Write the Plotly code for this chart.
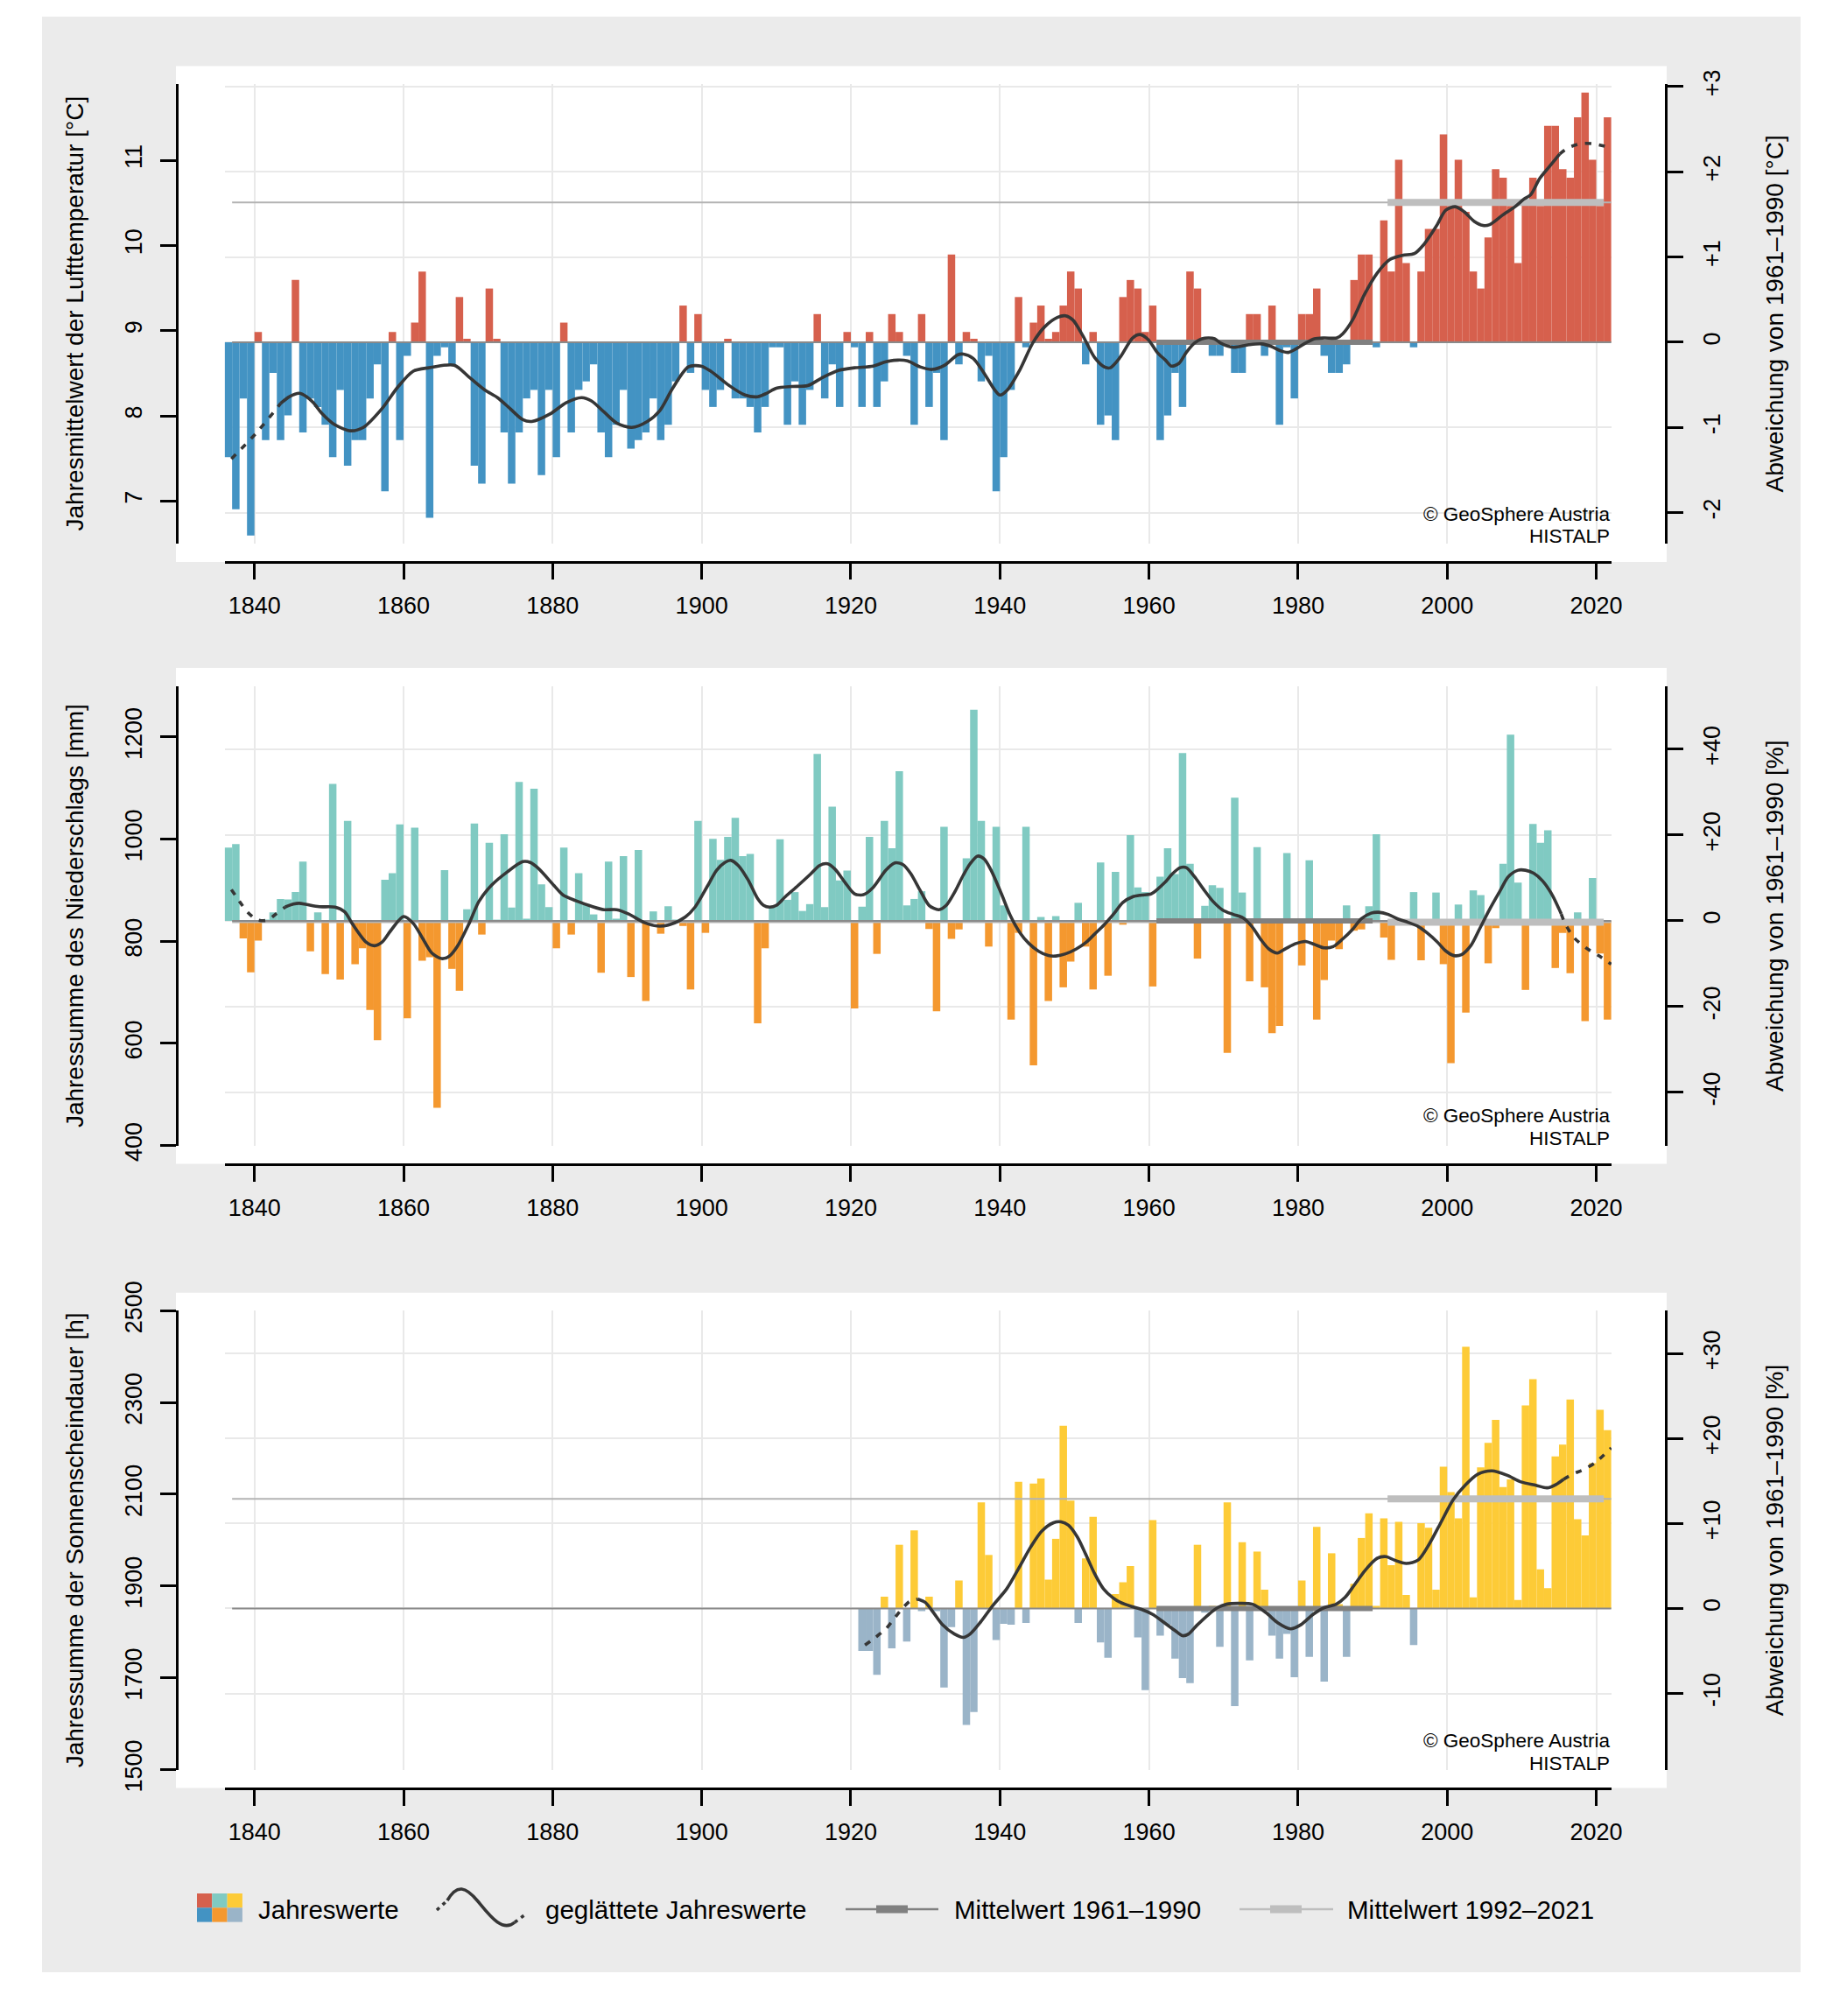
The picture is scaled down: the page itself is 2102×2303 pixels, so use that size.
import plotly.graph_objects as go

W, H = 2102, 2303

# ---------------------------------------------------------------- data
X_TICKS = [1840, 1860, 1880, 1900, 1920, 1940, 1960, 1980, 2000, 2020]
X_RANGE = [1836.0, 2022.05]
LINE_SPAN = [1837, 2022]
REF_PERIOD = [1961, 1990]
RECENT_PERIOD = [1992, 2021]

TEMP_YEARS = list(range(1837, 2023))
TEMP_DEV = [
    -1.35, -1.96, -0.66,
    -2.27, 0.12, -1.15, -0.36, -1.15, -0.86, 0.73, -1.06, -0.66, -0.76,
    -0.97, -1.35, -0.56, -1.45, -1.15, -1.15, -0.66, -0.26, -1.75, 0.12,
    -1.15, -0.16, 0.23, 0.83, -2.06, -0.16, -0.06, -0.26, 0.53, 0.04,
    -1.45, -1.66, 0.63, 0.04, -1.06, -1.66, -1.06, -0.66, -0.56, -1.56,
    -0.56, -1.35, 0.23, -1.06, -0.56, -0.46, -0.26, -1.06, -1.35, -0.97,
    -0.56, -1.25, -1.15, -1.06, -0.66, -1.15, -0.97, -0.46, 0.43, -0.36,
    0.33, -0.56, -0.76, -0.56, 0.04, -0.66, -0.66, -0.76, -1.06, -0.76,
    -0.06, -0.06, -0.97, -0.46, -0.97, -0.56, 0.33, -0.66, -0.26, -0.76,
    0.12, -0.06, -0.76, 0.12, -0.76, -0.46, 0.33, 0.12, -0.16, -0.97,
    0.33, -0.76, -0.36, -1.15, 1.03, -0.26, 0.12, 0.04, -0.46, -0.16,
    -1.75, -1.35, -0.56, 0.53, -0.06, 0.23, 0.43, 0.04, 0.12, 0.43,
    0.83, 0.63, -0.26, 0.12, -0.97, -0.86, -1.15, 0.53, 0.73, 0.63,
    0.12, 0.43, -1.15, -0.86, -0.36, -0.76, 0.83, 0.63, 0.02, -0.16,
    -0.16, -0.02, -0.36, -0.36, 0.33, 0.33, -0.16, 0.43, -0.97, -0.06,
    -0.66, 0.33, 0.33, 0.63, -0.16, -0.36, -0.36, -0.26, 0.73, 1.03,
    1.03, -0.06, 1.43, 0.83, 2.14, 0.93, -0.06, 0.83, 1.33, 1.33,
    2.44, 1.60, 2.14, 1.53, 0.83, 0.63, 1.23, 2.03, 1.93, 1.60,
    0.93, 1.65, 1.93, 1.60, 2.54, 2.54, 2.03, 1.93, 2.64, 2.93,
    2.14, 1.60, 2.64,
]
TEMP_SMOOTH_X = [
    1836.9, 1840.3, 1843.5, 1844.7, 1846.0, 1847.0, 1847.9, 1849.1, 1850.8, 1852.9,
    1854.6, 1857.1, 1859.2, 1861.3, 1863.4, 1866.8, 1868.8, 1870.9, 1872.6, 1874.3,
    1876.0, 1877.2, 1879.7, 1881.8, 1883.9, 1885.2, 1886.9, 1888.6, 1890.6, 1892.7,
    1894.4, 1896.1, 1898.2, 1899.9, 1901.2, 1903.7, 1905.8, 1907.5, 1908.7, 1910.0,
    1912.1, 1914.2, 1916.3, 1918.4, 1920.5, 1923.0, 1924.7, 1926.3, 1927.6, 1929.3,
    1930.9, 1932.6, 1934.3, 1935.1, 1936.4, 1937.7, 1939.3, 1940.0, 1941.0, 1942.7,
    1944.4, 1946.0, 1947.7, 1948.8, 1949.8, 1951.1, 1952.7, 1954.0, 1954.8, 1956.1,
    1957.8, 1958.8, 1959.9, 1961.1, 1962.2, 1963.0, 1964.0, 1965.0, 1966.1, 1967.1,
    1968.0, 1968.8, 1969.6, 1971.3, 1973.4, 1975.1, 1976.4, 1977.6, 1978.7, 1979.7,
    1981.0, 1982.2, 1983.5, 1985.2, 1986.0, 1987.3, 1988.9, 1990.6, 1992.3, 1994.0,
    1995.6, 1996.9, 1998.6, 1999.8, 2001.1, 2002.3, 2003.6, 2004.8, 2005.7, 2007.4,
    2009.1, 2010.3, 2011.2, 2012.4, 2013.7, 2015.1, 2016.2, 2017.9, 2019.5, 2021.6,
]
TEMP_SMOOTH_Y = [
    -1.37, -1.06, -0.72, -0.64, -0.60, -0.64, -0.71, -0.84, -0.97, -1.04,
    -1.00, -0.78, -0.53, -0.34, -0.30, -0.27, -0.41, -0.56, -0.65, -0.78,
    -0.91, -0.93, -0.84, -0.71, -0.65, -0.69, -0.82, -0.95, -1.00, -0.93,
    -0.80, -0.54, -0.29, -0.28, -0.34, -0.51, -0.62, -0.64, -0.60, -0.54,
    -0.52, -0.51, -0.41, -0.33, -0.30, -0.28, -0.23, -0.21, -0.22, -0.29,
    -0.32, -0.27, -0.15, -0.14, -0.19, -0.34, -0.56, -0.62, -0.56, -0.32,
    -0.01, 0.18, 0.29, 0.31, 0.26, 0.08, -0.18, -0.29, -0.30, -0.18,
    0.05, 0.09, 0.03, -0.12, -0.21, -0.28, -0.25, -0.12, -0.01, 0.04,
    0.05, 0.04, -0.01, -0.06, -0.03, -0.02, -0.05, -0.10, -0.12, -0.08,
    -0.01, 0.04, 0.05, 0.05, 0.10, 0.26, 0.56, 0.81, 0.97, 1.02,
    1.04, 1.15, 1.37, 1.55, 1.59, 1.53, 1.42, 1.37, 1.38, 1.49,
    1.59, 1.68, 1.73, 1.92, 2.06, 2.21, 2.28, 2.33, 2.33, 2.29,
]
TEMP_SMOOTH_SOLID = [1843.5, 2015.1]

PREC_YEARS = list(range(1837, 2023))
PREC_DEV = [
    17.1, 17.9, -4.1,
    -12.0, -4.6, 0.3, 2.0, 5.1, 5.0, 6.7, 13.8, -7.1, 2.0,
    -12.4, 31.9, -13.7, 23.3, -10.1, -6.4, -20.8, -27.8, 9.6, 11.1,
    22.5, -22.7, 21.7, -9.3, -8.5, -43.6, 11.8, -11.2, -16.3, 2.7,
    22.7, -3.2, 18.2, 0.2, 20.2, 3.1, 32.4, 0.5, 30.8, 8.5,
    3.2, -6.4, 17.1, -3.2, 11.1, 3.9, 1.5, -12.1, 13.8, 0.5,
    15.1, -13.1, 16.5, -18.7, 2.2, -3.0, 3.4, 0.3, -1.2, -16.0,
    23.3, -2.8, 19.1, 14.2, 19.6, 24.0, 15.1, 15.6, -23.9, -6.4,
    3.4, 19.0, 4.9, 6.7, 2.3, 3.9, 38.9, 3.2, 26.6, 9.4,
    11.7, -20.4, 3.3, 19.6, -7.7, 23.3, 16.9, 34.9, 3.6, 5.1,
    6.9, -1.9, -21.1, 21.9, -4.2, -2.0, 14.6, 49.2, 23.3, -6.0,
    21.9, 3.6, -23.0, -2.8, 21.9, -33.7, 0.9, -18.7, 1.1, -15.5,
    -9.5, 4.2, -6.0, -16.0, 13.6, -12.8, 11.4, -0.9, 20.0, 7.8,
    6.7, -15.3, 10.3, 16.9, 10.9, 39.1, 13.3, -8.8, 3.5, 8.3,
    7.7, -30.8, 28.7, 6.6, -14.1, 17.2, -15.5, -26.2, -24.5, 15.8,
    -0.5, -10.4, 14.1, -23.0, -13.8, -4.6, -6.6, 3.6, -2.3, -2.0,
    3.4, 20.2, -3.9, -9.1, 0.4, -0.3, 6.7, -9.2, 0.3, 6.6,
    -10.1, -33.2, 3.8, -21.4, 7.1, 6.0, -9.9, -1.7, 13.3, 43.4,
    8.9, -16.1, 22.6, 18.2, 21.1, -11.0, -2.8, -12.2, 2.0, -23.4,
    10.0, -7.6, -23.0,
]
PREC_SMOOTH_X = [
    1836.9, 1838.0, 1839.1, 1840.3, 1841.6, 1842.9, 1844.1, 1845.2, 1846.0, 1847.0,
    1848.7, 1850.8, 1852.1, 1853.1, 1855.0, 1856.1, 1857.1, 1858.4, 1860.0, 1861.3,
    1862.6, 1863.8, 1865.1, 1866.1, 1867.2, 1868.8, 1870.1, 1871.8, 1873.9, 1876.0,
    1877.0, 1878.1, 1880.2, 1881.4, 1883.1, 1885.2, 1886.9, 1888.6, 1890.2, 1892.3,
    1894.0, 1895.7, 1897.8, 1899.1, 1900.8, 1902.0, 1903.1, 1903.9, 1904.9, 1906.2,
    1907.5, 1908.3, 1909.1, 1910.0, 1911.2, 1912.9, 1914.6, 1915.8, 1916.9, 1917.9,
    1919.2, 1920.5, 1921.7, 1923.0, 1924.7, 1925.9, 1927.0, 1928.0, 1929.3, 1930.5,
    1931.8, 1932.8, 1933.9, 1935.1, 1936.0, 1937.0, 1937.9, 1938.9, 1940.2, 1941.4,
    1942.7, 1943.9, 1945.2, 1946.5, 1947.5, 1948.8, 1950.2, 1951.5, 1952.7, 1954.0,
    1955.3, 1956.5, 1957.8, 1959.0, 1960.3, 1962.1, 1963.1, 1964.2, 1965.0, 1966.1,
    1967.3, 1968.6, 1969.9, 1971.3, 1972.6, 1973.8, 1975.1, 1976.1, 1977.2, 1978.4,
    1979.7, 1981.0, 1982.2, 1983.5, 1984.7, 1986.0, 1987.3, 1988.5, 1989.8, 1990.8,
    1992.1, 1993.3, 1994.8, 1996.1, 1997.3, 1998.6, 1999.8, 2000.9, 2001.9, 2003.2,
    2004.4, 2005.7, 2007.0, 2008.2, 2009.5, 2010.5, 2011.6, 2012.8, 2014.1, 2015.3,
    2015.8, 2017.0, 2018.7, 2020.4, 2022.0,
]
PREC_SMOOTH_Y = [
    7.3, 4.5, 2.0, 0.3, 0.1, 1.6, 3.2, 3.9, 4.1, 3.8,
    3.3, 3.2, 2.1, -0.6, -5.0, -5.8, -5.0, -2.0, 1.0, -0.6,
    -4.2, -7.5, -8.8, -8.3, -6.0, -0.6, 4.5, 8.3, 11.4, 13.8,
    13.6, 12.2, 8.2, 6.0, 4.7, 3.4, 2.6, 2.6, 1.6, -0.4,
    -1.2, -0.9, 0.9, 3.2, 8.2, 11.8, 13.6, 14.1, 12.9, 9.6,
    5.2, 3.6, 3.2, 3.6, 5.6, 8.2, 10.9, 12.9, 13.3, 12.0,
    9.0, 6.3, 6.1, 7.8, 11.8, 13.5, 13.1, 11.1, 7.1, 3.6,
    2.6, 3.6, 6.6, 10.7, 13.3, 15.1, 14.4, 11.5, 6.3, 1.2,
    -2.8, -5.3, -7.1, -8.1, -8.2, -7.7, -6.6, -5.1, -3.1, -0.9,
    1.7, 4.3, 5.6, 6.0, 6.3, 8.9, 10.9, 12.4, 12.4, 10.3,
    7.4, 4.5, 2.5, 1.5, 0.7, -1.3, -4.6, -6.6, -7.5, -6.4,
    -5.3, -4.8, -5.5, -6.3, -6.0, -4.2, -2.0, 0.5, 1.8, 2.0,
    1.5, 0.5, -0.4, -1.3, -2.8, -4.8, -7.0, -8.1, -7.9, -5.7,
    -1.7, 2.7, 6.7, 10.3, 11.8, 11.8, 11.1, 9.3, 6.0, 1.6,
    -0.6, -3.9, -6.4, -8.2, -10.1,
]
PREC_SMOOTH_SOLID = [1844.1, 2015.3]

SUN_YEARS = list(range(1922, 2023))
SUN_DEV = [
    -5.0, -5.0, -7.8, 1.4, -4.7, 7.5, -3.9, 9.2,
    -0.3, 1.4, -0.3, -9.3, -2.2, 3.3, -13.7, -12.2, 12.5, 6.3,
    -3.7, -1.8, -1.9, 14.9, -1.7, 14.7, 15.3, 3.4, 8.2, 21.5,
    12.7, -1.7, 5.9, 10.8, -4.0, -5.8, 1.7, 3.1, 5.0, -3.4,
    -9.6, 10.4, -3.2, -1.9, -5.9, -8.2, -8.8, 7.5, -0.5, 0.3,
    -4.5, 12.5, -11.5, 7.8, -6.1, 6.7, 2.2, -3.2, -5.9, -3.0,
    -8.1, 3.3, -5.7, 9.6, -8.6, 6.5, 0.5, -5.7, 2.9, 8.3,
    11.2, 0.3, 10.6, 5.1, 10.2, 1.6, -4.3, 10.05, 9.5, 2.2,
    16.7, 13.7, 10.6, 30.8, 1.3, 16.6, 19.5, 22.2, 14.3, 15.2,
    1.0, 23.9, 27.0, 4.6, 2.4, 17.9, 19.3, 24.6, 10.5, 8.6,
    17.1, 23.4, 21.0,
]
SUN_SMOOTH_X = [
    1921.9, 1923.3, 1924.7, 1925.8, 1927.0, 1928.0, 1929.0, 1930.0, 1931.1, 1932.3,
    1933.9, 1935.1, 1936.0, 1937.4, 1939.0, 1940.9, 1942.5, 1944.1, 1945.6, 1947.2,
    1948.2, 1949.2, 1950.4, 1951.5, 1952.7, 1953.9, 1955.1, 1956.2, 1957.8, 1959.0,
    1960.5, 1962.1, 1963.5, 1964.5, 1965.3, 1966.4, 1968.0, 1969.2, 1970.4, 1971.9,
    1973.9, 1975.7, 1977.3, 1979.0, 1980.4, 1982.0, 1983.5, 1985.1, 1986.3, 1987.5,
    1989.0, 1990.6, 1991.8, 1992.9, 1994.5, 1996.1, 1997.6, 1999.2, 2000.8, 2002.4,
    2004.1, 2006.0, 2008.0, 2009.9, 2011.9, 2013.4, 2014.6, 2015.6, 2016.8, 2018.4,
    2019.9, 2022.0,
]
SUN_SMOOTH_Y = [
    -4.3, -3.4, -2.4, -1.2, 0.1, 0.9, 1.1, 0.7, -0.5, -1.9,
    -3.0, -3.4, -3.0, -1.6, 0.3, 2.3, 4.7, 7.2, 9.1, 10.1,
    10.2, 9.8, 8.4, 6.4, 4.1, 2.3, 1.3, 0.7, 0.2, -0.1,
    -0.7, -1.7, -2.6, -3.2, -3.0, -2.0, -0.7, 0.1, 0.5, 0.6,
    0.5, -0.5, -1.7, -2.4, -1.9, -0.7, 0.1, 0.5, 1.3, 2.7,
    4.5, 5.9, 6.1, 5.7, 5.3, 5.7, 7.6, 10.2, 12.8, 14.5,
    15.8, 16.2, 15.7, 14.9, 14.5, 14.2, 14.6, 15.2, 15.8, 16.4,
    17.2, 18.9,
]
SUN_SMOOTH_SOLID = [1928.5, 2015.6]

TEMP_MEAN_REF = 8.864          # °C 1961-1990
PREC_MEAN_REF = 840.0          # mm 1961-1990
SUN_MEAN_REF = 1851.0          # h 1961-1990
TEMP_RECENT_DEV = 1.64         # 1992-2021 mean, deviation
PREC_RECENT_DEV = -0.3
SUN_RECENT_DEV = 12.9

TEMP_LEFT_TICKS = [7, 8, 9, 10, 11]
TEMP_RIGHT_TICKS = [-2, -1, 0, 1, 2, 3]
PREC_LEFT_TICKS = [400, 600, 800, 1000, 1200]
PREC_RIGHT_TICKS = [-40, -20, 0, 20, 40]
SUN_LEFT_TICKS = [1500, 1700, 1900, 2100, 2300, 2500]
SUN_RIGHT_TICKS = [-10, 0, 10, 20, 30]

TEMP_LEFT_RANGE = [6.5, 11.894]
PREC_LEFT_RANGE = [400, 1300]
SUN_LEFT_RANGE = [1500, 2500]

# ---------------------------------------------------------------- style
FONT = "Liberation Sans, Arial, Helvetica, sans-serif"
GRID = "#e9e9e9"
BG_GREY = "#ebebeb"
SMOOTH_COL = "#363636"
REF_COL = "#808080"
RECENT_COL = "#bebebe"
TICK_FS = 27
TITLE_FS = 28
LEG_FS = 29.5
CRED_FS = 22.5

COL_T = ("#d6604d", "#4393c3")
COL_P = ("#80cac2", "#f4982f")
COL_S = ("#fdcb37", "#9ab4c8")

# pixel geometry
X_PX_1840, X_PX_PER_YEAR = 290.7, 8.516
AX_LEFT_PX, AX_RIGHT_PX = 202, 1903
WHITE_X = (201, 1904)
PANELS = [
    dict(top=96.0, bottom=621.0),
    dict(top=783.6, bottom=1308.6),
    dict(top=1497.2, bottom=2021.5),
]


def fx(px):
    return px / W


def fy(py):
    return 1 - py / H


def year_px(y):
    return X_PX_1840 + (y - 1840) * X_PX_PER_YEAR


def fmt_signed(v):
    return "+" + str(v) if v > 0 else str(v)


series = [
    dict(years=TEMP_YEARS, dev=TEMP_DEV, cols=COL_T, sx=TEMP_SMOOTH_X, sy=TEMP_SMOOTH_Y,
         solid=TEMP_SMOOTH_SOLID, recent=TEMP_RECENT_DEV, left_ticks=TEMP_LEFT_TICKS,
         right_ticks=TEMP_RIGHT_TICKS, left_range=TEMP_LEFT_RANGE,
         to_dev=lambda v: v - TEMP_MEAN_REF,
         ltitle="Jahresmittelwert der Lufttemperatur [°C]",
         rtitle="Abweichung von 1961–1990 [°C]"),
    dict(years=PREC_YEARS, dev=PREC_DEV, cols=COL_P, sx=PREC_SMOOTH_X, sy=PREC_SMOOTH_Y,
         solid=PREC_SMOOTH_SOLID, recent=PREC_RECENT_DEV, left_ticks=PREC_LEFT_TICKS,
         right_ticks=PREC_RIGHT_TICKS, left_range=PREC_LEFT_RANGE,
         to_dev=lambda v: (v / PREC_MEAN_REF - 1) * 100,
         ltitle="Jahressumme des Niederschlags [mm]",
         rtitle="Abweichung von 1961–1990 [%]"),
    dict(years=SUN_YEARS, dev=SUN_DEV, cols=COL_S, sx=SUN_SMOOTH_X, sy=SUN_SMOOTH_Y,
         solid=SUN_SMOOTH_SOLID, recent=SUN_RECENT_DEV, left_ticks=SUN_LEFT_TICKS,
         right_ticks=SUN_RIGHT_TICKS, left_range=SUN_LEFT_RANGE,
         to_dev=lambda v: (v / SUN_MEAN_REF - 1) * 100,
         ltitle="Jahressumme der Sonnenscheindauer [h]",
         rtitle="Abweichung von 1961–1990 [%]"),
]

fig = go.Figure()
layout = dict(
    width=W, height=H, autosize=False,
    margin=dict(l=0, r=0, t=0, b=0, pad=0, autoexpand=False),
    paper_bgcolor="white", plot_bgcolor="rgba(0,0,0,0)",
    showlegend=False, barmode="overlay",
    font=dict(family=FONT, color="black"),
)
shapes = [dict(type="rect", xref="paper", yref="paper", x0=fx(48), x1=fx(2057),
               y0=fy(2253), y1=fy(19), fillcolor=BG_GREY, line_width=0, layer="below")]
annotations = []

xd = [fx(year_px(X_RANGE[0])), fx(year_px(X_RANGE[1]))]

for i, (p, s) in enumerate(zip(PANELS, series)):
    xr = "x" if i == 0 else f"x{i + 1}"
    xk = "xaxis" if i == 0 else f"xaxis{i + 1}"
    ylr = "y" if i == 0 else f"y{2 * i + 1}"
    ylk = "yaxis" if i == 0 else f"yaxis{2 * i + 1}"
    yrr = f"y{2 * i + 2}"
    yrk = f"yaxis{2 * i + 2}"
    top, bot = p["top"], p["bottom"]
    axis_y = bot + 21
    yd = [fy(bot), fy(top)]

    shapes.append(dict(type="rect", xref="paper", yref="paper", x0=fx(WHITE_X[0]),
                       x1=fx(WHITE_X[1]), y0=fy(axis_y), y1=fy(top - 20.5),
                       fillcolor="white", line_width=0, layer="below"))

    right_range = [s["to_dev"](s["left_range"][0]), s["to_dev"](s["left_range"][1])]

    # dummy trace for the absolute (left) axis
    fig.add_trace(go.Scatter(x=[None], y=[None], xaxis=xr, yaxis=ylr,
                             hoverinfo="skip", showlegend=False))
    # annual bars
    fig.add_trace(go.Bar(
        x=s["years"], y=s["dev"], width=1, offset=-1,
        marker=dict(color=[s["cols"][0] if v >= 0 else s["cols"][1] for v in s["dev"]],
                    line_width=0),
        xaxis=xr, yaxis=yrr, hoverinfo="skip"))
    # thin reference lines
    fig.add_trace(go.Scatter(x=LINE_SPAN, y=[s["recent"]] * 2, mode="lines",
                             line=dict(color="#b3b3b3", width=2), xaxis=xr, yaxis=yrr,
                             hoverinfo="skip"))
    fig.add_trace(go.Scatter(x=LINE_SPAN, y=[0, 0], mode="lines",
                             line=dict(color="#8a8a8a", width=2), xaxis=xr, yaxis=yrr,
                             hoverinfo="skip"))
    # period means
    fig.add_trace(go.Scatter(x=REF_PERIOD, y=[0, 0], mode="lines",
                             line=dict(color=REF_COL, width=6), xaxis=xr, yaxis=yrr,
                             hoverinfo="skip"))
    fig.add_trace(go.Scatter(x=RECENT_PERIOD, y=[s["recent"]] * 2, mode="lines",
                             line=dict(color=RECENT_COL, width=8), xaxis=xr, yaxis=yrr,
                             hoverinfo="skip"))
    # smoothed curve: dotted ends, solid middle
    a, b = s["solid"]
    pre = [(x, y) for x, y in zip(s["sx"], s["sy"]) if x <= a]
    mid = [(x, y) for x, y in zip(s["sx"], s["sy"]) if a <= x <= b]
    post = [(x, y) for x, y in zip(s["sx"], s["sy"]) if x >= b]
    if pre and mid:
        pre = pre + [mid[0]]
    if post and mid:
        post = [mid[-1]] + post
    for seg, dash in ((pre, "7px,9px"), (mid, "solid"), (post, "7px,9px")):
        if len(seg) < 2:
            continue
        fig.add_trace(go.Scatter(x=[q[0] for q in seg], y=[q[1] for q in seg],
                                 mode="lines", line=dict(color=SMOOTH_COL, width=3.6,
                                                         dash=dash, shape="spline",
                                                         smoothing=0.8),
                                 xaxis=xr, yaxis=yrr, hoverinfo="skip"))

    layout[xk] = dict(
        domain=xd, range=X_RANGE, anchor="free", position=fy(axis_y), automargin=False,
        tickvals=X_TICKS, ticks="outside", ticklen=18, tickwidth=3, tickcolor="black",
        showline=True, linewidth=3, linecolor="black", showgrid=True, gridcolor=GRID,
        gridwidth=1.6, zeroline=False, tickfont=dict(size=TICK_FS, color="black"),
        ticklabelstandoff=7,
    )
    layout[ylk] = dict(
        domain=yd, range=s["left_range"], anchor="free", position=fx(AX_LEFT_PX),
        automargin=False,
        side="left", tickvals=s["left_ticks"], ticks="outside", ticklen=18, tickwidth=3,
        tickcolor="black", showline=True, linewidth=3, linecolor="black",
        showgrid=False, zeroline=False, tickangle=-90,
        tickfont=dict(size=TICK_FS, color="black"), ticklabelstandoff=10,
    )
    layout[yrk] = dict(
        domain=yd, range=right_range, overlaying=ylr, anchor="free",
        position=fx(AX_RIGHT_PX), side="right", tickvals=s["right_ticks"],
        automargin=False,
        ticktext=[fmt_signed(v) for v in s["right_ticks"]], ticks="outside",
        ticklen=18, tickwidth=3, tickcolor="black", showline=True, linewidth=3,
        linecolor="black", showgrid=True, gridcolor=GRID, gridwidth=1.6,
        zeroline=False, tickangle=-90, tickfont=dict(size=TICK_FS, color="black"),
        ticklabelstandoff=10,
    )

    mid_y = (top + bot) / 2
    annotations.append(dict(text=s["ltitle"], xref="paper", yref="paper", x=fx(85),
                            y=fy(mid_y), textangle=-90, showarrow=False,
                            font=dict(size=TITLE_FS), xanchor="center", yanchor="middle"))
    annotations.append(dict(text=s["rtitle"], xref="paper", yref="paper", x=fx(2027),
                            y=fy(mid_y), textangle=-90, showarrow=False,
                            font=dict(size=TITLE_FS), xanchor="center", yanchor="middle"))
    for txt, dy in (("© GeoSphere Austria", 491), ("HISTALP", 517)):
        annotations.append(dict(text=txt, xref="paper", yref="paper", x=fx(1841),
                                y=fy(top + dy), showarrow=False, xanchor="right",
                                yanchor="middle", font=dict(size=CRED_FS)))

# ---------------------------------------------------------------- legend
LEG_Y = 2181
cell_w, cell_h = 17.3, 16.3
legend_cols = [[COL_T[0], COL_P[0], COL_S[0]], [COL_T[1], COL_P[1], COL_S[1]]]
for r, row in enumerate(legend_cols):
    for c, col in enumerate(row):
        x0 = 225 + c * cell_w
        y0 = 2163 + r * cell_h
        shapes.append(dict(type="rect", xref="paper", yref="paper", x0=fx(x0),
                           x1=fx(x0 + cell_w), y0=fy(y0 + cell_h), y1=fy(y0),
                           fillcolor=col, line_width=0))


def P(x, y):
    return f"{fx(x):.6f},{fy(y):.6f}"


wave = f"M {P(511, 2171)} C {P(522, 2152)} {P(532, 2155)} {P(546, 2172)} S {P(574, 2208)} {P(588, 2196)}"
shapes.append(dict(type="path", xref="paper", yref="paper", path=wave,
                   line=dict(color=SMOOTH_COL, width=3.6)))
shapes.append(dict(type="path", xref="paper", yref="paper",
                   path=f"M {P(499, 2182)} L {P(511, 2171)}",
                   line=dict(color=SMOOTH_COL, width=3.6, dash="4px,5px")))
shapes.append(dict(type="path", xref="paper", yref="paper",
                   path=f"M {P(588, 2196)} L {P(600, 2187)}",
                   line=dict(color=SMOOTH_COL, width=3.6, dash="4px,5px")))

for (x0, x1, t0, t1, col) in ((966, 1072, 1001, 1037, REF_COL),
                              (1416, 1523, 1451, 1487, RECENT_COL)):
    shapes.append(dict(type="line", xref="paper", yref="paper", x0=fx(x0), x1=fx(x1),
                       y0=fy(LEG_Y), y1=fy(LEG_Y), line=dict(color=col, width=2.5)))
    shapes.append(dict(type="line", xref="paper", yref="paper", x0=fx(t0), x1=fx(t1),
                       y0=fy(LEG_Y), y1=fy(LEG_Y), line=dict(color=col, width=9)))

for txt, x in (("Jahreswerte", 293), ("geglättete Jahreswerte", 621),
               ("Mittelwert 1961–1990", 1088), ("Mittelwert 1992–2021", 1537)):
    annotations.append(dict(text=txt, xref="paper", yref="paper", x=fx(x), y=fy(LEG_Y),
                            showarrow=False, xanchor="left", yanchor="middle",
                            font=dict(size=LEG_FS)))

layout["shapes"] = shapes
layout["annotations"] = annotations
fig.update_layout(**layout)

fig.write_html("out.html", config={"displayModeBar": False},
               post_script="document.body.style.margin='0';document.body.style.overflow='hidden';")
